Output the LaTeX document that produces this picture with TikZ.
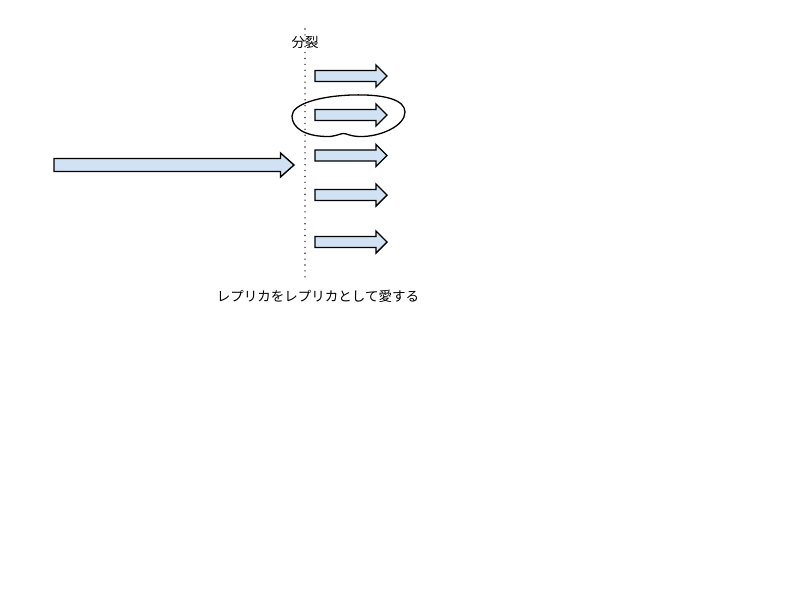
\documentclass[tikz,border=0pt]{standalone}
\usepackage{fontspec}
\newfontfamily\jpfont{Noto Sans CJK JP}
\definecolor{arrowfill}{RGB}{208,226,243}
\newcommand{\blockarrow}[6]{% x1, x2, yc, shaft half, head half, head length
  \filldraw[arrowbox] (#1,#3-#4) -- (#2-#6,#3-#4) -- (#2-#6,#3-#5) -- (#2,#3)
    -- (#2-#6,#3+#5) -- (#2-#6,#3+#4) -- (#1,#3+#4) -- cycle;}
\begin{document}
\begin{tikzpicture}[x=1pt,y=-1pt,
  arrowbox/.style={draw=black,fill=arrowfill,line width=1.4pt,line join=miter},
  divider/.style={draw=black!80,line width=1.6pt,line cap=round,dash pattern=on 0pt off 5.9pt},
  loop/.style={draw=black,line width=1.3pt},
  label/.style={font=\jpfont\fontsize{13.5}{16}\selectfont,inner sep=0pt}]
\useasboundingbox (0,0) rectangle (800,600);
\coordinate (divtop) at (305,29);
\coordinate (divbot) at (305,277);
\draw[divider] (divtop) -- (divbot);
\node[label] (split) at (305,42) {分裂};
\node[label] (caption) at (318,296) {レプリカをレプリカとして愛する};
\blockarrow{54}{294}{165}{6.5}{12}{13.5}
\blockarrow{315}{387}{76}{5.5}{11}{11}
\blockarrow{315}{387}{115}{5.5}{11}{11}
\blockarrow{315}{387}{155.5}{5.5}{11}{11}
\blockarrow{315}{387}{195}{5.5}{11}{11}
\blockarrow{315}{387}{242}{5.5}{11}{11}
\draw[loop] (292,116) .. controls (292,104) and (320,96) .. (352,95)
  .. controls (385,94) and (405,100) .. (405,112)
  .. controls (405,126) and (380,137) .. (360,136.5)
  .. controls (350,136.5) and (346,133) .. (343,133.5)
  .. controls (339,134) and (334,137) .. (326,136.5)
  .. controls (305,136) and (292,128) .. (292,116) -- cycle;
\end{tikzpicture}
\end{document}
